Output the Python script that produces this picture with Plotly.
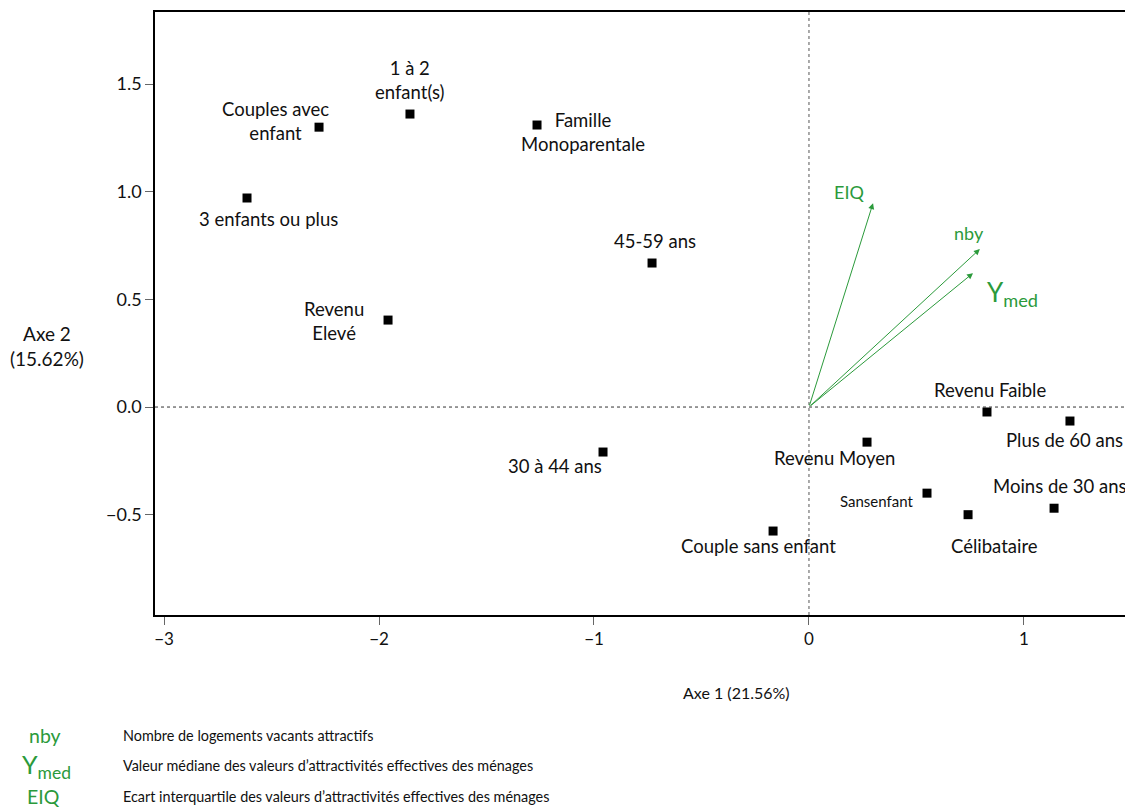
import plotly.graph_objects as go

# Modalities (supplementary points)
labels = ["Couples avec<br>enfant", "1 à 2<br>enfant(s)", "Famille<br>Monoparentale",
          "3 enfants ou plus", "45-59 ans", "Revenu<br>Elevé", "30 à 44 ans",
          "Revenu Moyen", "Revenu Faible", "Plus de 60 ans", "Sansenfant",
          "Moins de 30 ans", "Célibataire", "Couple sans enfant"]
axe1 = [-2.279, -1.856, -1.265, -2.614, -0.730, -1.958, -0.958,
        0.270, 0.828, 1.214, 0.549, 1.140, 0.740, -0.167]
axe2 = [1.300, 1.361, 1.310, 0.971, 0.669, 0.404, -0.209,
        -0.163, -0.023, -0.065, -0.400, -0.470, -0.500, -0.576]
# label offsets in pixels (style)
label_dx = [-44, 0, 46, 21, 3, -54, -48, -33, 3, -5, -51, 5, 26, -15]
label_dy = [6, 34, -7, -21, 22, -1, -14, -16, 22, -19, -8, 22, -31, -15]

# Variables (arrows)
var_names = ["EIQ", "nby", "Y<sub>med</sub>"]
var_x = [0.298, 0.795, 0.763]
var_y = [0.947, 0.734, 0.622]
var_dx = [-24, -11, 39]
var_dy = [11, 16, -20]

legend_keys = ["nby", "Y<sub>med</sub>", "EIQ"]
legend_desc = ["Nombre de logements vacants attractifs",
               "Valeur médiane des valeurs d\u2019attractivités effectives des ménages",
               "Ecart interquartile des valeurs d\u2019attractivités effectives des ménages"]

GREEN = "#2b9a3b"
FONT = "Lato"

fig = go.Figure()
fig.add_trace(go.Scatter(x=axe1, y=axe2, mode="markers",
                         marker=dict(symbol="square", size=9, color="black"),
                         hoverinfo="skip", showlegend=False))

# reference dashed lines through origin
fig.add_hline(y=0, line=dict(color="#333", width=1, dash="3px,3px"))
fig.add_vline(x=0, line=dict(color="#555", width=1, dash="3px,3px"))

for lab, x, y, dx, dy in zip(labels, axe1, axe2, label_dx, label_dy):
    small = lab == "Sansenfant"
    fig.add_annotation(x=x, y=y, text=lab, showarrow=False, xshift=dx, yshift=dy,
                       xanchor="center", yanchor="middle",
                       font=dict(family=FONT, size=15 if small else 18.5, color="#111"),
                       align="center")

for name, x, y, dx, dy in zip(var_names, var_x, var_y, var_dx, var_dy):
    fig.add_annotation(x=x, y=y, ax=0, ay=0, xref="x", yref="y", axref="x", ayref="y",
                       text="", showarrow=True, arrowhead=2, arrowsize=1.2,
                       arrowwidth=1, arrowcolor=GREEN)
    big = "med" in name
    fig.add_annotation(x=x, y=y, text=name, showarrow=False, xshift=dx, yshift=dy,
                       xanchor="center", yanchor="middle",
                       font=dict(family=FONT, size=26 if big else 18, color=GREEN))

W, H = 1125, 810
L, R, T, B = 155, 0, 12, 195
pw, ph = W - L - R, H - T - B

def px(xp):
    return (xp - L) / pw

def py(yp):
    return (H - B - yp) / ph

# axis titles
fig.add_annotation(x=px(736), y=py(692), xref="paper", yref="paper", text="Axe 1 (21.56%)",
                   xanchor="center", yanchor="middle",
                   showarrow=False, font=dict(family=FONT, size=16, color="#111"))
fig.add_annotation(text="Axe 2<br>(15.62%)", showarrow=False, xref="paper", yref="paper",
                   xanchor="center", yanchor="middle",
                   x=px(47), y=py(346), font=dict(family=FONT, size=19, color="#111"))

# legend block at bottom
key_x = [45, 46, 43]
rows = [735, 765, 796]
for i, (k, d) in enumerate(zip(legend_keys, legend_desc)):
    big = "med" in k
    fig.add_annotation(text=k, showarrow=False, xref="paper", yref="paper",
                       xanchor="center", yanchor="middle",
                       x=px(key_x[i]), y=py(rows[i] + (1 if big else 0)),
                       font=dict(family=FONT, size=25 if big else 19.5, color=GREEN))
    fig.add_annotation(text=d, showarrow=False, xref="paper", yref="paper",
                       x=px(121), y=py(rows[i]), xanchor="left", yanchor="middle",
                       font=dict(family=FONT, size=14.4, color="#111"))

fig.update_xaxes(range=[-3.042, 1.470], tickvals=[-3, -2, -1, 0, 1],
                 showgrid=False, zeroline=False, showline=True, linecolor="black",
                 linewidth=1.5, mirror=True, ticks="outside", ticklen=8, tickcolor="#666",
                 tickfont=dict(family=FONT, size=17, color="#111"))
fig.update_yaxes(range=[-0.966, 1.835], tickvals=[-0.5, 0, 0.5, 1.0, 1.5], tickformat=".1f",
                 showgrid=False, zeroline=False, showline=True, linecolor="black",
                 linewidth=1.5, ticks="outside", ticklen=8, tickcolor="#666",
                 tickfont=dict(family=FONT, size=18, color="#111"))
fig.update_layout(width=W, height=H, margin=dict(l=L, r=R, t=T, b=B),
                  plot_bgcolor="white", paper_bgcolor="white", showlegend=False)

fig.write_html("out.html", config={"displayModeBar": False},
               post_script="document.body.style.margin='0';document.body.style.overflow='hidden';")
